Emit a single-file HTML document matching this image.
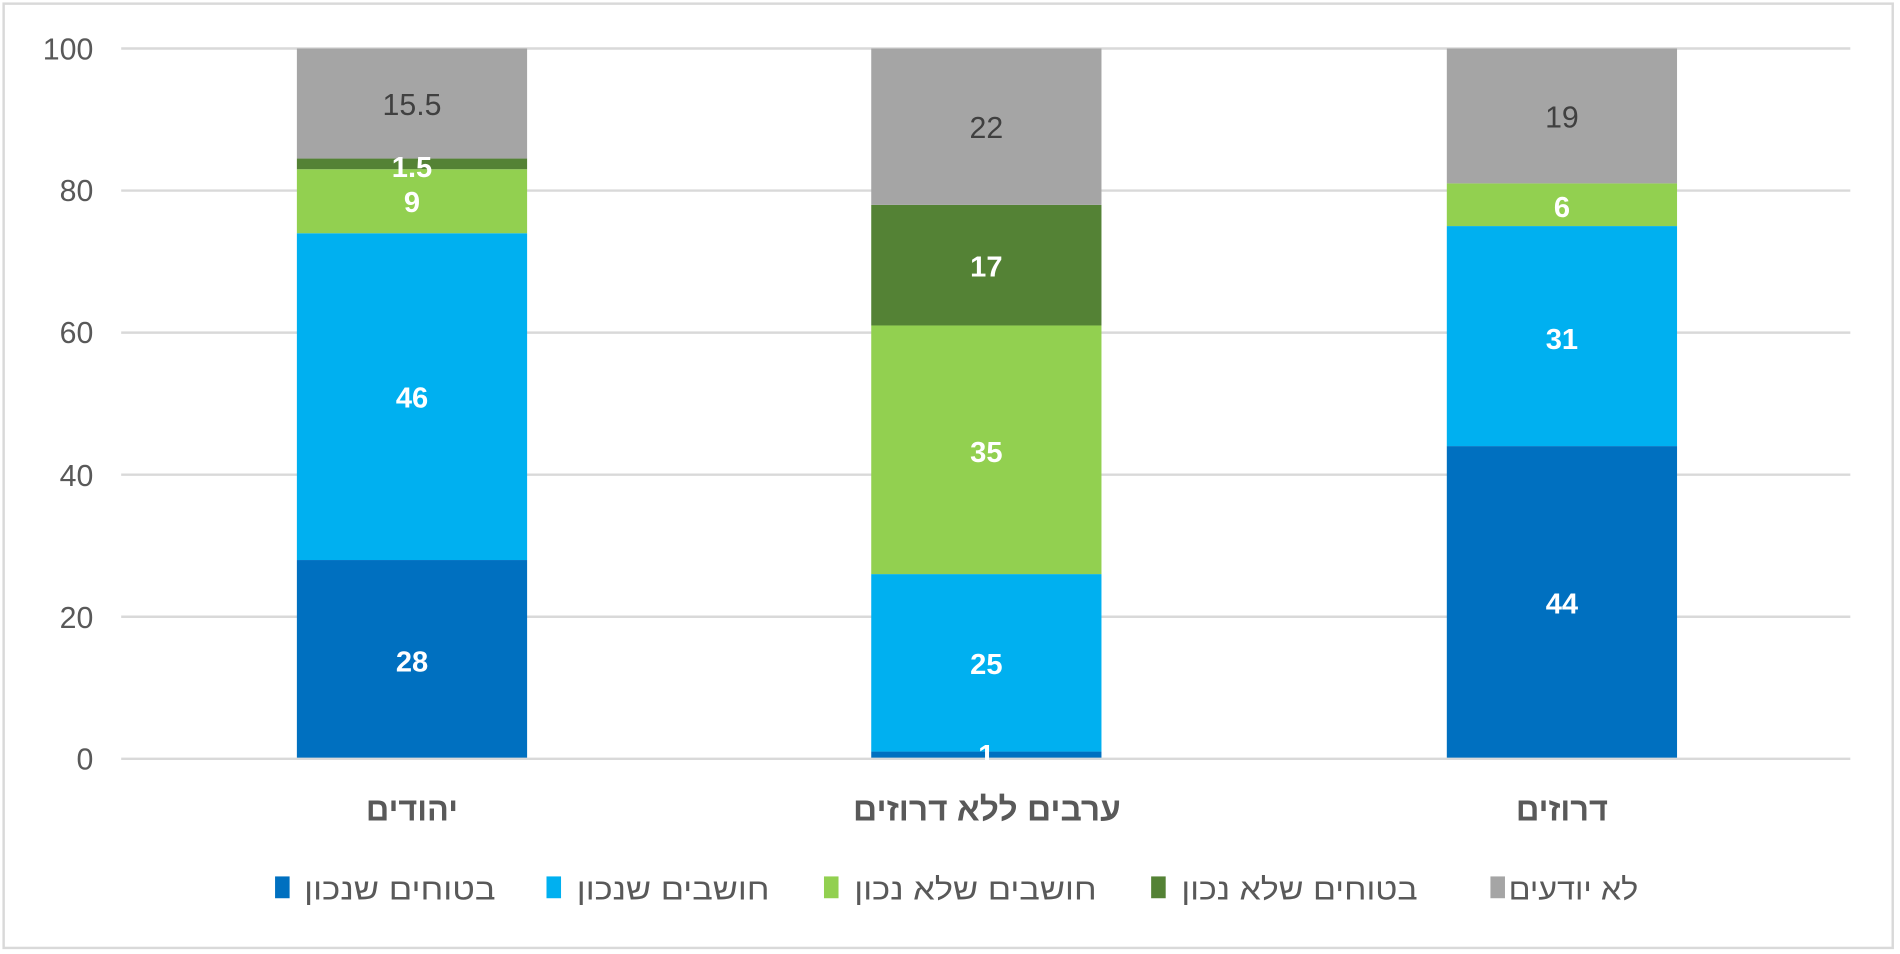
<!DOCTYPE html>
<html><head><meta charset="utf-8"><style>html,body{margin:0;padding:0;background:#fff}svg{display:block}</style></head>
<body>
<svg width="1900" height="954" viewBox="0 0 1568 787" preserveAspectRatio="none" xmlns="http://www.w3.org/2000/svg" font-family="'Liberation Sans','DejaVu Sans',sans-serif">
<rect x="3" y="3" width="1559" height="779" fill="#fff" stroke="#d9d9d9" stroke-width="2"/>
<g stroke="#d9d9d9" stroke-width="2">
<line x1="100" x2="1527" y1="40" y2="40"/><line x1="100" x2="1527" y1="157.2" y2="157.2"/>
<line x1="100" x2="1527" y1="274.4" y2="274.4"/><line x1="100" x2="1527" y1="391.6" y2="391.6"/>
<line x1="100" x2="1527" y1="508.8" y2="508.8"/>
</g>
<g font-size="25" fill="#595959" text-anchor="end">
<text x="77" y="49">100</text><text x="77" y="166">80</text><text x="77" y="283">60</text>
<text x="77" y="401">40</text><text x="77" y="518">20</text><text x="77" y="635">0</text>
</g>
<rect x="245" y="462" width="190" height="164" fill="#0070C0"/>
<rect x="245" y="192.4" width="190" height="269.6" fill="#00B0F0"/>
<rect x="245" y="139.6" width="190" height="52.8" fill="#92D050"/>
<rect x="245" y="130.8" width="190" height="8.8" fill="#548235"/>
<rect x="245" y="40" width="190" height="90.8" fill="#A5A5A5"/>
<rect x="719" y="620" width="190" height="6" fill="#0070C0"/>
<rect x="719" y="473.6" width="190" height="146.4" fill="#00B0F0"/>
<rect x="719" y="268.5" width="190" height="205.1" fill="#92D050"/>
<rect x="719" y="169" width="190" height="99.5" fill="#548235"/>
<rect x="719" y="40" width="190" height="129" fill="#A5A5A5"/>
<rect x="1194" y="368" width="190" height="258" fill="#0070C0"/>
<rect x="1194" y="186.5" width="190" height="181.5" fill="#00B0F0"/>
<rect x="1194" y="151.3" width="190" height="35.2" fill="#92D050"/>
<rect x="1194" y="40" width="190" height="111.3" fill="#A5A5A5"/>
<line x1="100" x2="1527" y1="626" y2="626" stroke="#d9d9d9" stroke-width="2"/>
<g font-size="24" text-anchor="middle" fill="#fff" font-weight="bold">
<text x="340" y="554">28</text><text x="340" y="336">46</text><text x="340" y="175">9</text><text x="340" y="146">1.5</text>
<text x="814" y="631">1</text><text x="814" y="556">25</text><text x="814" y="381">35</text><text x="814" y="228">17</text>
<text x="1289" y="506">44</text><text x="1289" y="288">31</text><text x="1289" y="179">6</text>
</g>
<g font-size="25" text-anchor="middle" fill="#404040">
<text x="340" y="95">15.5</text><text x="814" y="114">22</text><text x="1289" y="105">19</text>
</g>
<g font-size="27" fill="#595959" font-weight="bold">
<text x="302" y="677" textLength="76" lengthAdjust="spacingAndGlyphs">יהודים</text>
<text x="704" y="677" textLength="221" lengthAdjust="spacingAndGlyphs">ערבים ללא דרוזים</text>
<text x="1251" y="677" textLength="76" lengthAdjust="spacingAndGlyphs">דרוזים</text>
</g>
<g font-size="25" fill="#595959">
<rect x="227" y="723" width="12" height="18" fill="#0070C0"/><text x="251" y="742" textLength="158" lengthAdjust="spacingAndGlyphs">בטוחים שנכון</text>
<rect x="451" y="723" width="12" height="18" fill="#00B0F0"/><text x="476" y="742" textLength="159" lengthAdjust="spacingAndGlyphs">חושבים שנכון</text>
<rect x="680" y="723" width="12" height="18" fill="#92D050"/><text x="705" y="742" textLength="200" lengthAdjust="spacingAndGlyphs">חושבים שלא נכון</text>
<rect x="950" y="723" width="12" height="18" fill="#548235"/><text x="975" y="742" textLength="195" lengthAdjust="spacingAndGlyphs">בטוחים שלא נכון</text>
<rect x="1230" y="723" width="12" height="18" fill="#A5A5A5"/><text x="1245" y="742" textLength="107" lengthAdjust="spacingAndGlyphs">לא יודעים</text>
</g>
</svg>
</body></html>
